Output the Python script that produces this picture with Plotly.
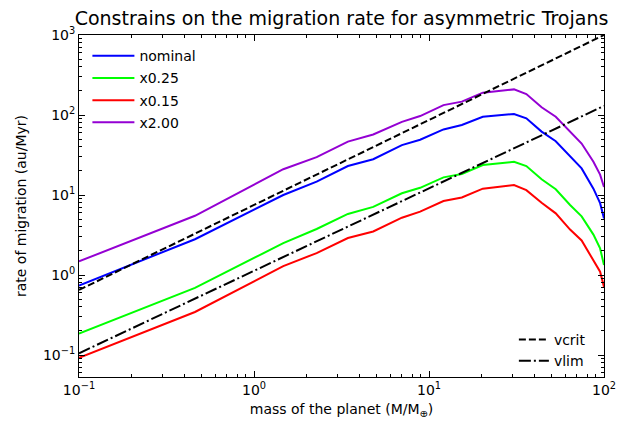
import plotly.graph_objects as go

mass = [0.1, 0.46, 1.47, 2.28, 3.44, 4.8, 7.0, 8.9, 12.1, 15.4, 20.3, 30.6, 36, 44, 53, 64, 74.5, 87, 95, 100]
nominal = [0.74, 2.8, 10, 14.7, 23, 28, 42, 49, 66, 75, 95, 103, 91, 62, 47, 30, 21.5, 12, 7.9, 5.1]
x025 = [0.185, 0.69, 2.5, 3.76, 5.8, 7.1, 10.5, 12.3, 16.6, 18.3, 23.7, 26, 23, 15.7, 11.8, 7.5, 5.4, 3.2, 2.15, 1.33]
x015 = [0.092, 0.345, 1.29, 1.88, 2.9, 3.5, 5.2, 6.2, 8.4, 9.3, 12, 13.3, 11.5, 8.0, 5.9, 3.7, 2.7, 1.54, 1.1, 0.71]
x200 = [1.48, 5.5, 21, 29.7, 46.5, 57, 82, 97, 133, 147, 190, 209, 183, 125, 95, 62, 44, 26, 18, 12.6]

line_mass = [0.1, 100]
vcrit = [0.65, 1000]
vlim = [0.105, 130]

series = [("nominal", nominal, "#0000ff"), ("x0.25", x025, "#00ff00"),
          ("x0.15", x015, "#ff0000"), ("x2.00", x200, "#9400d3")]

font = "DejaVu Sans, Liberation Sans, sans-serif"
fig = go.Figure()
for i, (name, ys, col) in enumerate(series):
    fig.add_trace(go.Scatter(x=mass, y=ys, mode="lines", name=name,
                             line=dict(color=col, width=2), legendgroup=f"g{i}", legend="legend"))
fig.add_trace(go.Scatter(x=line_mass, y=vcrit, mode="lines", name="vcrit",
                         line=dict(color="black", width=2, dash="7px,3px"), legend="legend2"))
fig.add_trace(go.Scatter(x=line_mass, y=vlim, mode="lines", name="vlim",
                         line=dict(color="black", width=2, dash="12px,3px,2px,3px"), legend="legend2"))

def minor_vals(lo, hi):
    v = []
    for e in range(lo, hi):
        for d in range(2, 10):
            v.append(d * 10 ** e)
    return v

axis_common = dict(type="log", showgrid=False, zeroline=False, showline=True, linecolor="black",
                   linewidth=1, mirror="allticks", ticks="inside", ticklen=6, tickwidth=1,
                   tickcolor="black", tickfont=dict(family=font, size=14, color="black"),
                   automargin=False)

sup = lambda e: "10<sup>" + (str(e) if e >= 0 else "\u2212" + str(-e)) + "</sup>"

fig.update_xaxes(**axis_common, range=[-1, 2], tickmode="array",
                 tickvals=[0.1, 1, 10, 100], ticktext=[sup(e) for e in [-1, 0, 1, 2]],
                 minor=dict(tickmode="array", tickvals=minor_vals(-1, 2), ticks="inside", ticklen=3,
                            tickcolor="black", tickwidth=1),
                 title=dict(text="mass of the planet (M/M<sub>\u2295</sub>)",
                            font=dict(family=font, size=14, color="black"), standoff=7))
fig.update_yaxes(**axis_common, range=[-1.275, 3], tickmode="array",
                 tickvals=[0.1, 1, 10, 100, 1000], ticktext=[sup(e) for e in [-1, 0, 1, 2, 3]],
                 minor=dict(tickmode="array", tickvals=minor_vals(-2, 3), ticks="inside", ticklen=3,
                            tickcolor="black", tickwidth=1),
                 title=dict(text="rate of migration (au/Myr)",
                            font=dict(family=font, size=14, color="black"), standoff=13))

fig.update_layout(
    width=633, height=423,
    margin=dict(l=79, r=29, t=35, b=46, autoexpand=False),
    plot_bgcolor="white", paper_bgcolor="white",
    font=dict(family=font, size=14, color="black"),
    title=dict(text="Constrains on the migration rate for asymmetric Trojans",
               x=0.5, xref="paper", xanchor="center", y=0.957, yanchor="middle",
               font=dict(family=font, size=19, color="black")),
    legend=dict(x=0.016, y=0.985, xanchor="left", yanchor="top", bgcolor="rgba(0,0,0,0)",
                font=dict(family=font, size=14, color="black"), tracegroupgap=1,
                traceorder="grouped", itemwidth=42),
    legend2=dict(x=0.975, y=0.0, xanchor="right", yanchor="bottom", bgcolor="rgba(0,0,0,0)",
                 font=dict(family=font, size=14, color="black")),
)
fig.write_html("out.html", config={"displayModeBar": False},
               post_script="document.body.style.margin='0';")
